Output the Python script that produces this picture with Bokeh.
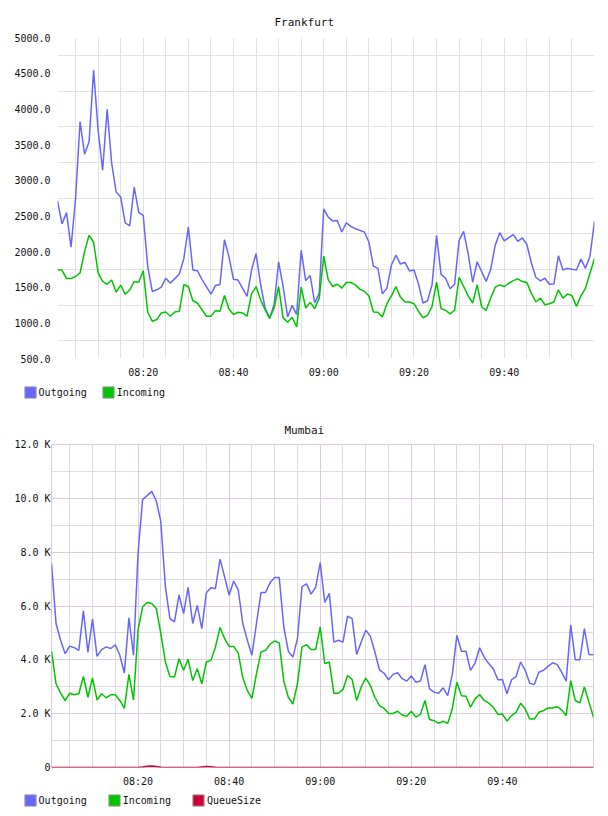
import pandas as pd
from bokeh.plotting import figure
from bokeh.models import (FixedTicker, Legend, LegendItem, CustomJSTickFormatter, Grid,
                          DatetimeTickFormatter, NumeralTickFormatter, Range1d)
from bokeh.embed import file_html
from bokeh.resources import INLINE

# ---------------- data ----------------
times = pd.date_range("2024-01-01 08:01", periods=120, freq="min")

fra_out = [2708, 2387, 2545, 2060, 2740, 3820, 3365, 3537, 4539, 3700,
           3141, 3994, 3239, 2834, 2764, 2400, 2359, 2904, 2550, 2505,
           1787, 1440, 1463, 1500, 1625, 1555, 1620, 1685, 1903, 2343,
           1740, 1731, 1610, 1508, 1403, 1523, 1537, 2167, 1926, 1610,
           1600, 1486, 1370, 1740, 1972, 1541, 1208, 1069, 1254, 1856,
           1509, 1083, 1245, 1116, 2018, 1593, 1662, 1278, 1417, 2597,
           2481, 2426, 2435, 2273, 2403, 2352, 2319, 2296, 2273, 2134,
           1796, 1764, 1407, 1486, 1810, 1949, 1824, 1847, 1727, 1741,
           1546, 1278, 1310, 1532, 2227, 1680, 1625, 1477, 1541, 2157,
           2282, 1972, 1569, 1856, 1717, 1579, 1750, 2088, 2264, 2148,
           2194, 2236, 2143, 2190, 2102, 1843, 1639, 1588, 1625, 1541,
           1546, 1940, 1741, 1764, 1750, 1741, 1893, 1764, 1935, 2421]

fra_in = [1744, 1740, 1620, 1620, 1650, 1700, 2000, 2230, 2130, 1700,
          1580, 1540, 1600, 1430, 1530, 1400, 1460, 1580, 1570, 1731,
          1148, 1023, 1046, 1139, 1153, 1092, 1153, 1162, 1537, 1509,
          1310, 1278, 1185, 1092, 1092, 1171, 1162, 1384, 1194, 1116,
          1148, 1139, 1092, 1407, 1509, 1324, 1185, 1060, 1208, 1509,
          1069, 1009, 1079, 944, 1500, 1208, 1287, 1199, 1347, 1935,
          1602, 1509, 1541, 1486, 1565, 1565, 1532, 1472, 1440, 1379,
          1153, 1148, 1083, 1268, 1379, 1509, 1361, 1292, 1292, 1268,
          1162, 1069, 1106, 1231, 1569, 1199, 1176, 1125, 1176, 1639,
          1509, 1379, 1278, 1532, 1222, 1176, 1347, 1500, 1532, 1509,
          1555, 1592, 1616, 1579, 1565, 1417, 1292, 1347, 1254, 1268,
          1292, 1463, 1347, 1403, 1384, 1231, 1379, 1486, 1694, 1903]

mum_out = [7590, 5350, 4730, 4230, 4510, 4450, 4350, 5820, 4280, 5510,
           4130, 4380, 4480, 4420, 4560, 4170, 3510, 5560, 4170, 7960,
           9950, 10100, 10260, 9910, 9140, 6720, 5530, 5410, 6410, 5720,
           6690, 5350, 6020, 5160, 6490, 6680, 6650, 7740, 7090, 6410,
           6930, 6590, 5350, 4730, 4170, 5350, 6500, 6500, 6870, 7060,
           7060, 5220, 4320, 4100, 4790, 6720, 6820, 6440, 6690, 7610,
           6130, 6470, 4660, 4730, 4660, 5620, 5530, 4200, 4660, 5100,
           4880, 4290, 3630, 3510, 3260, 3460, 3520, 3300, 3210, 3400,
           3170, 3210, 3820, 2920, 2800, 2760, 2960, 2670, 3460, 4910,
           4320, 4320, 3610, 3880, 4450, 4100, 3860, 3670, 3260, 3270,
           2740, 3260, 3380, 3920, 3610, 3130, 3080, 3540, 3610, 3760,
           3890, 3830, 3540, 3210, 5290, 4000, 4000, 5160, 4200, 4190]

mum_in = [4320, 3110, 2760, 2490, 2760, 2700, 2740, 3380, 2610, 3330,
          2510, 2740, 2590, 2700, 2700, 2490, 2200, 3460, 2510, 5100,
          5970, 6130, 6090, 5910, 4980, 3920, 3380, 3360, 4040, 3610,
          4020, 3230, 3670, 3110, 3920, 3980, 4480, 5200, 4790, 4500,
          4500, 4250, 3330, 2860, 2570, 3480, 4290, 4350, 4580, 4700,
          4630, 3210, 2610, 2360, 3110, 4480, 4560, 4380, 4380, 5220,
          3860, 3920, 2760, 2760, 2900, 3420, 3270, 2490, 2990, 3320,
          3050, 2610, 2300, 2200, 2010, 2010, 2090, 1950, 1900, 2090,
          1870, 1970, 2490, 1780, 1740, 1640, 1720, 1640, 2180, 3170,
          2670, 2650, 2240, 2550, 2710, 2490, 2390, 2240, 1970, 1990,
          1720, 1930, 2050, 2390, 2180, 1800, 1800, 2050, 2110, 2210,
          2210, 2260, 2140, 1930, 3230, 2490, 2400, 2990, 2430, 1870]

mum_queue = [0, 0, 0, 0, 0, 0, 0, 0, 0, 0,
             0, 0, 0, 0, 0, 0, 0, 0, 0, 0,
             20, 50, 60, 40, 10, 0, 0, 0, 0, 0,
             0, 0, 0, 20, 40, 30, 10, 0, 0, 0,
             0, 0, 0, 0, 0, 0, 0, 0, 0, 0,
             0, 0, 0, 0, 0, 0, 0, 0, 0, 0,
             0, 0, 0, 0, 0, 0, 0, 0, 0, 0,
             0, 0, 0, 0, 0, 0, 0, 0, 0, 0,
             0, 0, 0, 0, 0, 0, 0, 0, 0, 0,
             0, 0, 0, 0, 0, 0, 0, 0, 0, 0,
             0, 0, 0, 0, 0, 0, 0, 0, 0, 0,
             0, 0, 0, 0, 0, 0, 0, 0, 0, 0]

fra_yticks = [500, 1000, 1500, 2000, 2500, 3000, 3500, 4000, 4500, 5000]
fra_ygrid = [750, 1250, 1750, 2250, 2750, 3250, 3750, 4250, 4750]
mum_yticks = [0, 2000, 4000, 6000, 8000, 10000, 12000]
mum_yminor = [1000, 3000, 5000, 7000, 9000, 11000]

C_OUT = "#6666ff"
C_IN = "#00c400"
C_Q = "#cc0033"
GRID = "#e2e2e2"
PINK = "#e0c8e0"
FONT = "DejaVu Sans Mono"


def ms(ts):
    return ts.value / 1e6


label_times = pd.date_range("2024-01-01 08:20", periods=5, freq="20min")
five_times = pd.date_range("2024-01-01 08:05", periods=24, freq="5min")
major_ms = [ms(t) for t in label_times]
five_ms = [ms(t) for t in five_times]
minor_ms = [m for m in five_ms if m not in major_ms]

fmt = DatetimeTickFormatter(seconds="%H:%M", minsec="%H:%M", minutes="%H:%M",
                            hourmin="%H:%M", hours="%H:%M", days="%H:%M")


def style_axes(p):
    for ax in (p.xaxis + p.yaxis):
        ax.axis_line_color = None
        ax.major_tick_line_color = None
        ax.minor_tick_line_color = None
        ax.major_tick_in = 0
        ax.major_tick_out = 0
        ax.minor_tick_in = 0
        ax.minor_tick_out = 0
        ax.major_label_text_font = FONT
        ax.major_label_text_font_size = "10px"
        ax.major_label_text_color = "#111111"
    p.xaxis.major_label_standoff = 8
    p.xaxis.ticker = FixedTicker(ticks=major_ms)
    p.xaxis.formatter = fmt
    p.title.text_font = FONT
    p.title.text_font_size = "11px"
    p.title.text_font_style = "normal"
    p.title.align = "left"
    p.title.text_color = "#111111"


def legend_fig(items, height, loc, spacing):
    f = figure(width=608, height=height, output_backend="svg", toolbar_location=None,
               x_range=Range1d(0, 1), y_range=Range1d(0, 1),
               x_axis_location=None, y_axis_location=None,
               min_border_left=0, min_border_right=0, min_border_top=0, min_border_bottom=0)
    f.outline_line_color = None
    f.xgrid.visible = False
    f.ygrid.visible = False
    leg_items = []
    for label, color in items:
        # a hidden box (outside the visible range) only feeds the legend swatch
        r = f.quad(left=[-3], right=[-2], top=[-2], bottom=[-3],
                   fill_color=color, line_color="#999999")
        leg_items.append(LegendItem(label=label, renderers=[r]))
    leg = Legend(items=leg_items, location=loc, orientation="horizontal",
                 glyph_width=14, glyph_height=14, label_height=14, label_standoff=2,
                 spacing=spacing, padding=0, margin=0, border_line_color=None,
                 background_fill_alpha=0, label_text_font=FONT, label_text_font_size="10px",
                 label_text_color="#111111")
    f.add_layout(leg)
    return f


# ---------------- Frankfurt ----------------
p1 = figure(width=608, height=380, x_axis_type="datetime", output_backend="svg",
            toolbar_location=None, title="Frankfurt",
            x_range=Range1d(times[0], times[-1]), y_range=Range1d(500, 5000),
            min_border_left=57, min_border_right=14, min_border_top=37, min_border_bottom=21)
p1.outline_line_color = None
style_axes(p1)
p1.title.offset = 217
p1.title.standoff = 17
p1.yaxis.ticker = FixedTicker(ticks=fra_yticks)
p1.yaxis.formatter = NumeralTickFormatter(format="0.0")
p1.yaxis.major_label_standoff = 7
p1.xgrid.ticker = FixedTicker(ticks=five_ms)
p1.ygrid.ticker = FixedTicker(ticks=fra_ygrid)
p1.xgrid.grid_line_color = GRID
p1.ygrid.grid_line_color = GRID

p1.line(times, fra_out, line_color=C_OUT, line_width=1.5)
p1.line(times, fra_in, line_color=C_IN, line_width=1.5)
leg1 = legend_fig([("Outgoing", C_OUT), ("Incoming", C_IN)], 30, (22.6, 11), 14)

# ---------------- Mumbai ----------------
p2 = figure(width=608, height=380, x_axis_type="datetime", output_backend="svg",
            toolbar_location=None, title="Mumbai",
            x_range=Range1d(times[0], times[-1]), y_range=Range1d(0, 12000),
            min_border_left=51, min_border_right=15, min_border_top=34, min_border_bottom=23)
p2.outline_line_color = PINK
style_axes(p2)
p2.title.offset = 233
p2.title.standoff = 16
p2.yaxis.ticker = FixedTicker(ticks=mum_yticks)
p2.yaxis.formatter = CustomJSTickFormatter(
    code="return tick == 0 ? '0' : (tick / 1000).toFixed(1) + ' K';")
p2.yaxis.major_label_standoff = 1
p2.xgrid.ticker = FixedTicker(ticks=minor_ms)
p2.ygrid.ticker = FixedTicker(ticks=mum_yminor)
p2.xgrid.grid_line_color = "#e0dbe0"
p2.ygrid.grid_line_color = "#e0dbe0"
p2.add_layout(Grid(dimension=0, ticker=FixedTicker(ticks=major_ms), grid_line_color=PINK))
p2.add_layout(Grid(dimension=1, ticker=FixedTicker(ticks=mum_yticks), grid_line_color=PINK))

p2.line(times, mum_out, line_color=C_OUT, line_width=1.5)
p2.line(times, mum_in, line_color=C_IN, line_width=1.5)
p2.line(times, mum_queue, line_color=C_Q, line_width=1.5)
leg2 = legend_fig([("Outgoing", C_OUT), ("Incoming", C_IN), ("QueueSize", C_Q)], 26, (22.6, 9), 20)

# separate roots, stacked by the page itself, so each figure keeps its own frame
open("out.html", "w").write(file_html([p1, leg1, p2, leg2], INLINE))
